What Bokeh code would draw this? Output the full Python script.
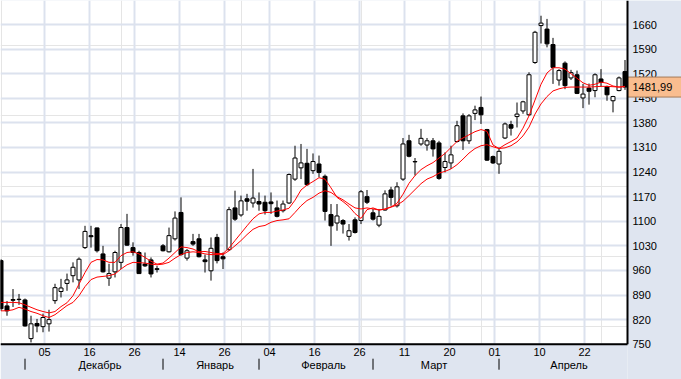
from bokeh.plotting import figure
from bokeh.models import Range1d, FixedTicker, ColumnDataSource, Grid
from bokeh.core.properties import value
from bokeh.embed import file_html
from bokeh.resources import INLINE
import numpy as np

# ---- data (daily candles, left to right) ----
opens = [988, 859, 877, 878, 876, 766, 809, 800, 808, 874,
         900, 923, 945, 933, 1025, 1059, 1081, 1007, 938, 956,
         983, 1082, 1025, 1011, 978, 990, 965, 1030, 1013, 1050,
         1125, 995, 1042, 1050, 990, 959, 1054, 999, 1019, 1138,
         1118, 1164, 1152, 1156, 1154, 1155, 1138, 1130, 1152, 1220,
         1252, 1265, 1244, 1263, 1228, 1119, 1095, 1102, 1057, 1104,
         1102, 1170, 1124, 1089, 1132, 1189, 1144, 1220, 1329, 1270,
         1320, 1317, 1329, 1323, 1253, 1266, 1327, 1400, 1329, 1407,
         1424, 1361, 1284, 1263, 1337, 1375, 1398, 1414, 1403, 1552,
         1657, 1647, 1603, 1502, 1550, 1508, 1517, 1451, 1479, 1472,
         1505, 1483, 1443, 1472, 1526]
highs = [992, 873, 907, 893, 880, 831, 822, 837, 848, 922,
         936, 951, 983, 997, 1087, 1087, 1082, 1030, 979, 1016,
         1092, 1121, 1040, 1016, 1011, 997, 973, 1035, 1082, 1128,
         1168, 1021, 1064, 1064, 1005, 1054, 1064, 1011, 1141, 1187,
         1173, 1178, 1249, 1182, 1173, 1182, 1159, 1159, 1236, 1315,
         1320, 1306, 1293, 1287, 1233, 1149, 1149, 1106, 1092, 1111,
         1189, 1189, 1135, 1135, 1188, 1198, 1211, 1337, 1346, 1280,
         1363, 1337, 1337, 1329, 1296, 1315, 1386, 1407, 1405, 1429,
         1455, 1363, 1287, 1310, 1381, 1386, 1438, 1443, 1524, 1642,
         1685, 1676, 1622, 1533, 1555, 1531, 1529, 1491, 1492, 1521,
         1533, 1486, 1457, 1512, 1559]
lows = [845, 831, 856, 862, 800, 755, 784, 784, 786, 865,
        883, 902, 926, 907, 1021, 1025, 1011, 954, 916, 940,
        964, 1030, 1002, 950, 970, 940, 954, 1014, 1011, 1045,
        1002, 988, 1030, 997, 954, 931, 980, 964, 1016, 1101,
        1113, 1130, 1139, 1130, 1119, 1121, 1111, 1125, 1149, 1215,
        1220, 1201, 1235, 1225, 1102, 1030, 1073, 1065, 1045, 1065,
        1092, 1149, 1102, 1083, 1130, 1144, 1139, 1215, 1282, 1230,
        1315, 1301, 1284, 1218, 1239, 1249, 1324, 1303, 1320, 1388,
        1377, 1272, 1263, 1235, 1334, 1344, 1367, 1406, 1400, 1548,
        1606, 1595, 1491, 1486, 1476, 1502, 1462, 1422, 1432, 1453,
        1483, 1443, 1410, 1470, 1474]
closes = [851, 845, 875, 877, 802, 808, 802, 826, 820, 911,
          910, 933, 969, 992, 1071, 1056, 1016, 956, 951, 1011,
          1082, 1032, 1011, 951, 973, 950, 963, 1016, 1059, 1109,
          1005, 1016, 1035, 999, 985, 1023, 988, 993, 1133, 1106,
          1158, 1157, 1166, 1149, 1130, 1150, 1114, 1149, 1233, 1280,
          1266, 1204, 1270, 1239, 1128, 1087, 1115, 1092, 1073, 1068,
          1184, 1154, 1106, 1114, 1178, 1168, 1198, 1320, 1285, 1269,
          1336, 1329, 1306, 1222, 1270, 1289, 1372, 1329, 1400, 1417,
          1403, 1274, 1266, 1299, 1377, 1365, 1405, 1440, 1517, 1638,
          1664, 1605, 1538, 1529, 1486, 1523, 1464, 1462, 1470, 1517,
          1495, 1460, 1455, 1508, 1481.99]
ma_fast = [869, 869, 869, 868, 862, 855, 848, 843, 839, 843,
           857, 868, 888, 921, 954, 983, 991, 990, 983, 983,
           1002, 1011, 1013, 1007, 997, 986, 978, 981, 995, 1011,
           1027, 1025, 1021, 1013, 1014, 1011, 1008, 1008, 1024, 1045,
           1066, 1087, 1107, 1121, 1125, 1125, 1129, 1132, 1137, 1160,
           1189, 1203, 1213, 1224, 1220, 1195, 1168, 1156, 1142, 1122,
           1108, 1133, 1138, 1132, 1135, 1141, 1151, 1177, 1208, 1230,
           1247, 1258, 1267, 1280, 1293, 1310, 1327, 1337, 1346, 1355,
           1361, 1356, 1317, 1307, 1318, 1327, 1337, 1365, 1400, 1445,
           1490, 1522, 1537, 1537, 1533, 1520, 1507, 1494, 1487, 1490,
           1496, 1493, 1485, 1482, 1484]
ma_slow = [845, 845, 848, 855, 850, 843, 838, 831, 826, 834,
           847, 860, 869, 888, 914, 934, 941, 943, 945, 950,
           964, 976, 983, 982, 981, 978, 976, 978, 983, 995,
           1005, 1011, 1013, 1011, 1007, 1005, 1005, 1005, 1016, 1030,
           1045, 1062, 1077, 1085, 1088, 1097, 1102, 1104, 1107, 1125,
           1144, 1159, 1168, 1180, 1187, 1182, 1170, 1161, 1149, 1138,
           1135, 1138, 1135, 1132, 1134, 1140, 1146, 1157, 1173, 1190,
           1207, 1220, 1227, 1237, 1242, 1249, 1261, 1277, 1294, 1307,
           1315, 1318, 1312, 1307, 1309, 1315, 1326, 1343, 1368, 1405,
           1434, 1455, 1471, 1477, 1481, 1482, 1482, 1482, 1482, 1483,
           1484, 1484, 1483, 1482, 1483]

# axis ticks (in candle-index units) and labels
day_tick_pos = [7.25, 14.75, 22.25, 29.75, 37.25, 44.75, 52.25, 59.75,
                67.25, 74.75, 82.25, 89.75, 97.25]
day_tick_labels = ["05", "16", "26", "14", "26", "04", "16", "26",
                   "11", "20", "01", "10", "22"]
month_sep_pos = [4, 27, 43, 62, 83]
month_label_pos = [16.5, 35.67, 53.75, 72.17, 94.67]
month_labels = ["Декабрь", "Январь", "Февраль", "Март", "Апрель"]
price_ticks = [750, 820, 890, 960, 1030, 1100, 1170, 1240, 1310,
               1380, 1450, 1520, 1590, 1660, 1730]
last_price = 1481.99
last_price_text = "1481,99"

# ---- layout constants (pixels) ----
W, H = 681, 379
PX_X = 6.0               # pixels per candle
PX_Y = 24.59 / 70.0      # pixels per price unit
FRAME_RIGHT_PX = 627     # right edge of the plot area
FRAME_BOTTOM_PX = 343.7  # bottom edge of the plot area
BASE = price_ticks[0]    # price at the bottom edge

X0 = -0.5 / PX_X
X1 = X0 + W / PX_X
XE = X0 + FRAME_RIGHT_PX / PX_X
Y1 = BASE + FRAME_BOTTOM_PX / PX_Y
Y0 = BASE - (H - FRAME_BOTTOM_PX) / PX_Y

FONT = value("Liberation Sans")
GRID = "#DCE2EE"
PANEL = "#DFE5F0"
TAG = "#F9BD8F"

# ---- build ----
o = np.array(opens, dtype=float)
c = np.array(closes, dtype=float)
idx = np.arange(len(opens))
up = c >= o
src_up = ColumnDataSource(dict(x=idx[up], o=o[up], c=c[up]))
src_dn = ColumnDataSource(dict(x=idx[~up], o=o[~up], c=c[~up]))
src_w = ColumnDataSource(dict(x=idx, h=highs, l=lows))

p = figure(width=W, height=H, x_range=Range1d(X0, X1), y_range=Range1d(Y0, Y1),
           output_backend="svg", toolbar_location=None,
           x_axis_location=None, y_axis_location=None,
           min_border=0, background_fill_color="white", border_fill_color=PANEL,
           outline_line_color=None)

p.add_layout(Grid(dimension=0, ticker=FixedTicker(ticks=day_tick_pos),
                  grid_line_color=GRID, grid_line_width=2))
p.add_layout(Grid(dimension=1, ticker=FixedTicker(ticks=price_ticks),
                  grid_line_color=GRID, grid_line_width=2))

# candles and moving averages
p.segment(x0="x", y0="l", x1="x", y1="h", source=src_w, line_color="black", line_width=1)
p.vbar(x="x", bottom="o", top="c", width=4 / PX_X, source=src_up,
       fill_color="white", line_color="black", line_width=1)
p.vbar(x="x", bottom="o", top="c", width=4 / PX_X, source=src_dn,
       fill_color="black", line_color="black", line_width=1)
p.line(idx, ma_slow, line_color="#FF0000", line_width=1)
p.line(idx, ma_fast, line_color="#FF0000", line_width=1)

# axis panels (right price scale, bottom time scale)
p.quad(left=[XE], right=[X1], bottom=[Y0], top=[Y1], fill_color=PANEL, line_color=None)
p.quad(left=[X0], right=[XE], bottom=[Y0], top=[BASE], fill_color=PANEL, line_color=None)

# price scale labels
vis_ticks = [t for t in price_ticks if t <= Y1]
p.text(x=[XE] * len(vis_ticks), y=vis_ticks, text=[str(t) for t in vis_ticks],
       x_offset=5, text_align="left", text_baseline="middle",
       text_font=FONT, text_font_size="11px", text_color="black")

# last price tag
p.quad(left=[XE], right=[X1], bottom=[last_price - 10 / PX_Y], top=[last_price + 10 / PX_Y],
       fill_color=TAG, line_color="#A57A5A", line_width=1)
p.text(x=[XE], y=[last_price], text=[last_price_text], x_offset=5,
       text_align="left", text_baseline="middle",
       text_font=FONT, text_font_size="11px", text_color="black")

# plot-area border (right and bottom)
p.segment(x0=[XE, X0], y0=[BASE, BASE], x1=[XE, XE], y1=[Y1, BASE],
          line_color="black", line_width=2)

# time scale: days, month separators, month names
p.text(x=day_tick_pos, y=[BASE - 7.3 / PX_Y] * len(day_tick_pos), text=day_tick_labels,
       text_align="center", text_baseline="middle",
       text_font=FONT, text_font_size="11px", text_color="black")
p.segment(x0=month_sep_pos, y0=[BASE - 14.5 / PX_Y] * len(month_sep_pos),
          x1=month_sep_pos, y1=[BASE - 25.5 / PX_Y] * len(month_sep_pos),
          line_color="black", line_width=1)
p.text(x=month_label_pos, y=[BASE - 21.0 / PX_Y] * len(month_label_pos), text=month_labels,
       text_align="center", text_baseline="middle",
       text_font=FONT, text_font_size="11px", text_color="black")

open("out.html", "w").write(file_html(p, INLINE))
